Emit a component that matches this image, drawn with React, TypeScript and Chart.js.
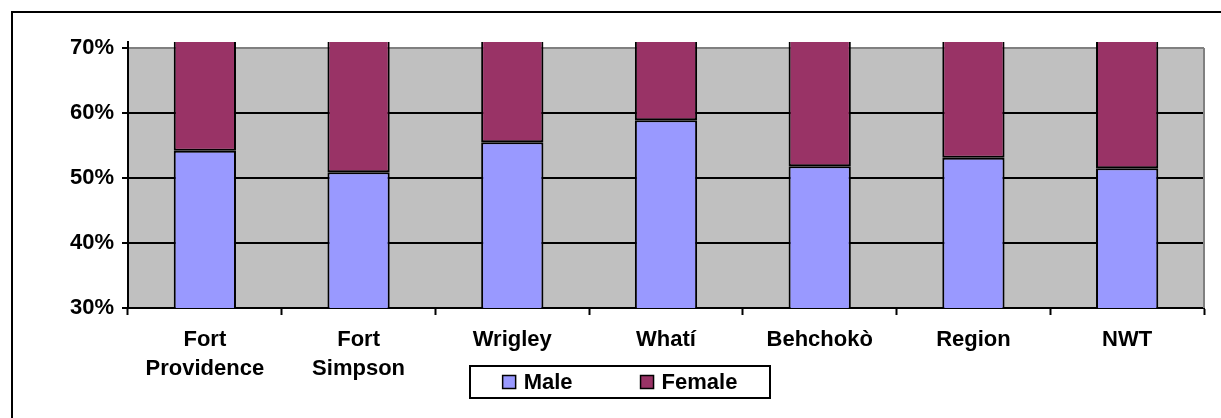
import React, { useEffect, useRef } from "react";
import { Chart, registerables } from "chart.js";

Chart.register(...registerables);

const categories: (string | string[])[] = [
  ["Fort", "Providence"],
  ["Fort", "Simpson"],
  "Wrigley",
  "Whatí",
  "Behchokò",
  "Region",
  "NWT",
];
const maleValues = [54.2, 50.9, 55.5, 58.9, 51.8, 53.1, 51.5];
const femaleValues = [45.8, 49.1, 44.5, 41.1, 48.2, 46.9, 48.5];
const yTickValues = [30, 40, 50, 60, 70];
const seriesNames = ["Male", "Female"];
const seriesColors = ["#9999FF", "#993366"];

const FONT = 'Arial, "Liberation Sans", sans-serif';
const FONT_SIZE = 22;
const Y_MIN = 30;
const Y_MAX_VISIBLE = 70;
const Y_MAX_AXIS = 70.92;

const framePlugin = {
  id: "frame",
  beforeDraw(chart: any) {
    const { ctx, chartArea, scales } = chart;
    const y = scales.y;
    const top = y.getPixelForValue(Y_MAX_VISIBLE);
    const bottom = y.getPixelForValue(Y_MIN);
    ctx.save();
    ctx.fillStyle = "#FFFFFF";
    ctx.fillRect(0, 0, chart.width, chart.height);
    ctx.fillStyle = "#C0C0C0";
    ctx.fillRect(chartArea.left, top, chartArea.right - chartArea.left, bottom - top);
    ctx.restore();
  },
  beforeDatasetsDraw(chart: any) {
    const { ctx, chartArea, scales } = chart;
    const y = scales.y;
    const top = y.getPixelForValue(Y_MAX_VISIBLE);
    const bottom = y.getPixelForValue(Y_MIN);
    ctx.save();
    ctx.strokeStyle = "#808080";
    ctx.lineWidth = 2;
    ctx.beginPath();
    ctx.moveTo(chartArea.right, top);
    ctx.lineTo(chartArea.right, bottom);
    ctx.stroke();
    ctx.restore();
  },
  afterDraw(chart: any) {
    const { ctx } = chart;
    ctx.save();
    // outer frame
    ctx.strokeStyle = "#000";
    ctx.lineWidth = 2;
    ctx.strokeRect(12, 12, 3000, 3000);

    // legend
    ctx.font = `bold ${FONT_SIZE}px ${FONT}`;
    ctx.textBaseline = "middle";
    ctx.textAlign = "left";
    const sq = 13;
    const gapText = 8;
    const gapItem = 68;
    const widths = seriesNames.map((n) => ctx.measureText(n).width);
    const content =
      widths.reduce((a: number, w: number) => a + sq + gapText + w, 0) + gapItem * (seriesNames.length - 1);
    const boxW = 300;
    const boxH = 32;
    const cx = 620;
    const boxL = cx - boxW / 2;
    const boxT = 366;
    ctx.lineWidth = 2;
    ctx.strokeStyle = "#000";
    ctx.strokeRect(boxL, boxT, boxW, boxH);
    let x = cx - content / 2;
    const midY = boxT + boxH / 2;
    seriesNames.forEach((n, i) => {
      ctx.fillStyle = seriesColors[i];
      ctx.fillRect(x, midY - sq / 2, sq, sq);
      ctx.lineWidth = 1.5;
      ctx.strokeRect(x, midY - sq / 2, sq, sq);
      ctx.fillStyle = "#000";
      ctx.fillText(n, x + sq + gapText, midY + 1);
      x += sq + gapText + widths[i] + gapItem;
    });
    ctx.restore();
  },
};

export default function App() {
  const canvasRef = useRef<HTMLCanvasElement | null>(null);

  useEffect(() => {
    const canvas = canvasRef.current;
    if (!canvas) return;
    const chart = new Chart(canvas, {
      type: "bar",
      data: {
        labels: categories as any,
        datasets: [
          {
            label: seriesNames[0],
            data: maleValues,
            backgroundColor: seriesColors[0],
            borderColor: "#000",
            borderWidth: 2,
            borderSkipped: false,
            barPercentage: 0.405,
            categoryPercentage: 1.0,
          },
          {
            label: seriesNames[1],
            data: femaleValues,
            backgroundColor: seriesColors[1],
            borderColor: "#000",
            borderWidth: 2,
            borderSkipped: false,
            barPercentage: 0.405,
            categoryPercentage: 1.0,
          },
        ],
      },
      options: {
        animation: false,
        responsive: false,
        maintainAspectRatio: false,
        layout: { padding: { left: 12, top: 42, right: 17, bottom: 0 } },
        plugins: {
          legend: { display: false },
          tooltip: { enabled: false },
          title: { display: false },
        },
        scales: {
          x: {
            stacked: true,
            offset: true,
            grid: {
              offset: true,
              drawOnChartArea: false,
              drawTicks: true,
              tickLength: 7,
              tickColor: "#000",
              tickWidth: 2,
            },
            border: { display: true, color: "#000", width: 2 },
            ticks: {
              autoSkip: false,
              maxRotation: 0,
              minRotation: 0,
              padding: 11,
              color: "#000",
              font: { family: FONT, size: FONT_SIZE, weight: "bold", lineHeight: 1.3 },
            },
            afterFit(scale: any) {
              scale.height = 110;
            },
          },
          y: {
            stacked: true,
            min: Y_MIN,
            max: Y_MAX_AXIS,
            afterBuildTicks(scale: any) {
              scale.ticks = yTickValues.map((v) => ({ value: v }));
            },
            grid: {
              color: (c: any) => (c.tick && c.tick.value === Y_MAX_VISIBLE ? "#808080" : "#000"),
              lineWidth: 2,
              drawTicks: true,
              tickLength: 6,
              tickColor: "#000",
              tickWidth: 2,
            },
            border: { display: true, color: "#000", width: 2 },
            ticks: {
              padding: 8,
              color: "#000",
              font: { family: FONT, size: FONT_SIZE, weight: "bold" },
              callback: (v: any) => `${v}%`,
            },
            afterFit(scale: any) {
              scale.width = 116;
            },
          },
        },
      },
      plugins: [framePlugin],
    });
    return () => chart.destroy();
  }, []);

  return (
    <div style={{ position: "fixed", left: 0, top: 0, width: 1221, height: 418 }}>
      <canvas ref={canvasRef} width={1221} height={418} style={{ display: "block" }} />
    </div>
  );
}
